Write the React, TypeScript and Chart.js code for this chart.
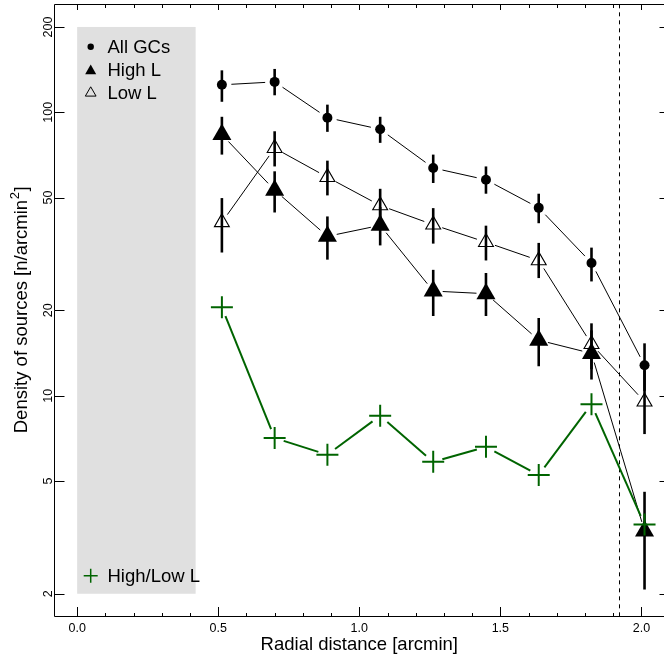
import React, { useEffect, useRef } from "react";
import { Chart, registerables } from "chart.js";

Chart.register(...registerables);

// ---------- data ----------
const radialDistance = [0.513, 0.7, 0.887, 1.074, 1.262, 1.449, 1.636, 1.823, 2.011];

const allGCs = [125, 128, 95.7, 87.1, 63.6, 57.8, 46.0, 29.4, 12.8];
const allGCsUpper = [140.6, 142.2, 106.4, 96.4, 70.9, 64.4, 51.6, 33.3, 15.3];
const allGCsLower = [108.9, 114.8, 85.3, 78.0, 56.3, 51.6, 40.6, 25.3, 10.4];

const highL = [83.4, 53.1, 36.5, 39.9, 23.4, 22.9, 15.7, 14.1, 3.33];
const highLUpper = [96.4, 61.9, 42.9, 46.3, 27.8, 27.1, 18.8, 17.0, 4.58];
const highLLower = [70.9, 44.3, 30.2, 33.9, 19.1, 19.1, 12.7, 11.4, 2.07];

const lowL = [40.9, 74.7, 59.0, 46.9, 40.1, 34.8, 30.0, 15.2, 9.52];
const lowLUpper = [49.8, 85.7, 67.5, 53.7, 45.9, 39.8, 34.6, 18.0, 12.3];
const lowLLower = [32.0, 64.4, 50.9, 40.2, 34.4, 30.0, 26.0, 12.4, 7.32];

const highLowRatio = [20.5, 7.09, 6.19, 8.5, 5.84, 6.6, 5.25, 9.32, 3.51];

const xTickValues = [0, 0.5, 1, 1.5, 2];
const xTickLabels = ["0.0", "0.5", "1.0", "1.5", "2.0"];
const xMinorTickValues = [0.1, 0.2, 0.3, 0.4, 0.6, 0.7, 0.8, 0.9, 1.1, 1.2, 1.3, 1.4, 1.6, 1.7, 1.8, 1.9];
const yTickValues = [2, 5, 10, 20, 50, 100, 200];
const yTickLabels = ["2", "5", "10", "20", "50", "100", "200"];

const shadedX = [0, 0.42];
const shadedY = [2, 200];
const cutoffRadius = 1.92;
const xRange = [-0.08, 2.08];
const yRange = [1.664, 240.4];

const legendLabels = ["All GCs", "High L", "Low L", "High/Low L"];

const FONT = '"Liberation Sans", Arial, Helvetica, sans-serif';
const GREEN = "#006400";
const W = 664;
const H = 659;

const toPoints = (vals: number[]) => radialDistance.map((x, i) => ({ x, y: vals[i] }));

const decorPlugin = {
  id: "decor",
  beforeDatasetsDraw(chart: any) {
    const { ctx, chartArea: a, scales } = chart;
    const xs = scales.x;
    const ys = scales.y;
    ctx.save();
    const x0 = xs.getPixelForValue(shadedX[0]);
    const x1 = xs.getPixelForValue(shadedX[1]);
    const y0 = ys.getPixelForValue(shadedY[1]);
    const y1 = ys.getPixelForValue(shadedY[0]);
    ctx.fillStyle = "#e0e0e0";
    ctx.fillRect(x0, y0, x1 - x0, y1 - y0);
    const cx = Math.round(xs.getPixelForValue(cutoffRadius)) + 0.5;
    ctx.strokeStyle = "#000";
    ctx.lineWidth = 1;
    ctx.setLineDash([4, 4]);
    ctx.beginPath();
    ctx.moveTo(cx, a.top);
    ctx.lineTo(cx, a.bottom);
    ctx.stroke();
    ctx.setLineDash([]);

    chart.data.datasets.forEach((ds: any) => {
      if (!(ds.upper && ds.lower)) return;
      ctx.strokeStyle = "#000";
      ctx.lineWidth = 2.6;
      ctx.lineCap = "butt";
      ds.data.forEach((p: any, i: number) => {
        const px = xs.getPixelForValue(p.x);
        ctx.beginPath();
        ctx.moveTo(px, ys.getPixelForValue(ds.lower[i]));
        ctx.lineTo(px, ys.getPixelForValue(ds.upper[i]));
        ctx.stroke();
      });
    });
    chart.data.datasets.forEach((ds: any) => {
      const pts = ds.data.map((p: any) => ({ x: xs.getPixelForValue(p.x), y: ys.getPixelForValue(p.y) }));
      ctx.strokeStyle = ds.lineColor;
      ctx.lineWidth = ds.lineWidth;
      const gap = 9.5;
      for (let i = 0; i < pts.length - 1; i++) {
        const p = pts[i];
        const q = pts[i + 1];
        const dx = q.x - p.x;
        const dy = q.y - p.y;
        const len = Math.hypot(dx, dy);
        if (len <= 2 * gap) continue;
        const ux = dx / len;
        const uy = dy / len;
        ctx.beginPath();
        ctx.moveTo(p.x + ux * gap, p.y + uy * gap);
        ctx.lineTo(q.x - ux * gap, q.y - uy * gap);
        ctx.stroke();
      }
    });
    ctx.restore();
  },
  afterDraw(chart: any) {
    const { ctx, chartArea: a, scales } = chart;
    const xs = scales.x;
    const ys = scales.y;
    ctx.save();
    ctx.strokeStyle = "#000";
    ctx.lineWidth = 1;
    const L = Math.floor(a.left) + 0.5;
    const T = Math.floor(a.top) + 0.5;
    const B = Math.floor(a.bottom) + 0.5;
    const R = Math.floor(a.right) + 0.5;
    ctx.beginPath();
    ctx.moveTo(R, T);
    ctx.lineTo(L, T);
    ctx.lineTo(L, B);
    ctx.lineTo(R, B);
    ctx.lineTo(R, T);
    ctx.stroke();

    ctx.beginPath();
    xTickValues.forEach((v) => {
      const px = Math.round(xs.getPixelForValue(v)) + 0.5;
      ctx.moveTo(px, B);
      ctx.lineTo(px, B - 9.5);
      ctx.moveTo(px, T);
      ctx.lineTo(px, T + 5.5);
    });
    xMinorTickValues.forEach((v) => {
      const px = Math.round(xs.getPixelForValue(v)) + 0.5;
      ctx.moveTo(px, B);
      ctx.lineTo(px, B - 3.5);
      ctx.moveTo(px, T);
      ctx.lineTo(px, T + 3.5);
    });
    yTickValues.forEach((v) => {
      const py = Math.round(ys.getPixelForValue(v)) + 0.5;
      ctx.moveTo(L, py);
      ctx.lineTo(L + 10, py);
      ctx.moveTo(R, py);
      ctx.lineTo(R - 5, py);
    });
    ctx.stroke();

    ctx.fillStyle = "#000";
    ctx.font = `12.5px ${FONT}`;
    ctx.textAlign = "center";
    ctx.textBaseline = "alphabetic";
    xTickValues.forEach((v, i) => {
      ctx.fillText(xTickLabels[i], xs.getPixelForValue(v), 631.5);
    });
    yTickValues.forEach((v, i) => {
      ctx.save();
      ctx.translate(52, ys.getPixelForValue(v));
      ctx.rotate(-Math.PI / 2);
      ctx.fillText(yTickLabels[i], 0, 0);
      ctx.restore();
    });

    ctx.font = `18.5px ${FONT}`;
    ctx.textAlign = "center";
    ctx.fillText("Radial distance [arcmin]", (a.left + a.right) / 2, 650);

    const mainTxt = "Density of sources [n/arcmin";
    const supTxt = "2";
    const endTxt = "]";
    ctx.font = `18.5px ${FONT}`;
    const w1 = ctx.measureText(mainTxt).width;
    const w3 = ctx.measureText(endTxt).width;
    ctx.font = `13px ${FONT}`;
    const w2 = ctx.measureText(supTxt).width;
    const total = w1 + w2 + w3;
    ctx.save();
    ctx.translate(26.7, (a.top + a.bottom) / 2);
    ctx.rotate(-Math.PI / 2);
    ctx.textAlign = "left";
    ctx.font = `18.5px ${FONT}`;
    ctx.fillText(mainTxt, -total / 2, 0);
    ctx.font = `13px ${FONT}`;
    ctx.fillText(supTxt, -total / 2 + w1 + 0.5, -7.5);
    ctx.font = `18.5px ${FONT}`;
    ctx.fillText(endTxt, -total / 2 + w1 + w2 + 1, 0);
    ctx.restore();

    const sx = 90.7;
    const tx = 107.5;
    ctx.font = `18.5px ${FONT}`;
    ctx.textAlign = "left";
    ctx.fillStyle = "#000";
    ctx.beginPath();
    ctx.arc(sx, 46.7, 3.2, 0, Math.PI * 2);
    ctx.fill();
    ctx.fillText(legendLabels[0], tx, 53.3);
    const tri = (cx: number, cy: number, r: number) => {
      ctx.beginPath();
      for (let k = 0; k < 3; k++) {
        const ang = (k * 2 * Math.PI) / 3;
        const px = cx + Math.sin(ang) * r;
        const py = cy - Math.cos(ang) * r;
        if (k === 0) ctx.moveTo(px, py);
        else ctx.lineTo(px, py);
      }
      ctx.closePath();
    };
    tri(sx, 71, 6.4);
    ctx.fill();
    ctx.fillText(legendLabels[1], tx, 75.9);
    tri(sx, 93, 6.2);
    ctx.lineWidth = 1;
    ctx.stroke();
    ctx.fillText(legendLabels[2], tx, 99);
    ctx.strokeStyle = GREEN;
    ctx.lineWidth = 1.5;
    ctx.beginPath();
    ctx.moveTo(sx - 7, 575.7);
    ctx.lineTo(sx + 7, 575.7);
    ctx.moveTo(sx, 575.7 - 7);
    ctx.lineTo(sx, 575.7 + 7);
    ctx.stroke();
    ctx.fillText(legendLabels[3], tx, 582.3);
    ctx.restore();
  },
};

export default function App() {
  const canvasRef = useRef<HTMLCanvasElement | null>(null);

  useEffect(() => {
    document.body.style.margin = "0";
    document.body.style.overflow = "hidden";
    const canvas = canvasRef.current;
    if (!canvas) return;
    const chart = new Chart(canvas, {
      type: "scatter",
      data: {
        datasets: [
          {
            label: "All GCs",
            data: toPoints(allGCs),
            upper: allGCsUpper,
            lower: allGCsLower,
            lineColor: "#000",
            lineWidth: 1,
            pointStyle: "circle",
            pointRadius: 5,
            backgroundColor: "#000",
            borderColor: "#000",
            borderWidth: 0,
            showLine: false,
            order: 4,
          } as any,
          {
            label: "High L",
            data: toPoints(highL),
            upper: highLUpper,
            lower: highLLower,
            lineColor: "#000",
            lineWidth: 1,
            pointStyle: "triangle",
            pointRadius: 11,
            backgroundColor: "#000",
            borderColor: "#000",
            borderWidth: 0,
            showLine: false,
            order: 3,
          } as any,
          {
            label: "Low L",
            data: toPoints(lowL),
            upper: lowLUpper,
            lower: lowLLower,
            lineColor: "#000",
            lineWidth: 1,
            pointStyle: "triangle",
            pointRadius: 8.6,
            backgroundColor: "rgba(0,0,0,0)",
            borderColor: "#000",
            borderWidth: 1.1,
            showLine: false,
            order: 2,
          } as any,
          {
            label: "High/Low L",
            data: toPoints(highLowRatio),
            lineColor: GREEN,
            lineWidth: 2,
            pointStyle: "cross",
            pointRadius: 11,
            backgroundColor: GREEN,
            borderColor: GREEN,
            borderWidth: 2,
            showLine: false,
            order: 1,
          } as any,
        ],
      },
      options: {
        responsive: false,
        devicePixelRatio: 1,
        animation: false,
        events: [],
        layout: { autoPadding: false, padding: { left: 54.58, right: -4, top: 4.32, bottom: 42.6 } },
        plugins: { legend: { display: false }, tooltip: { enabled: false } },
        scales: {
          x: { type: "linear", min: xRange[0], max: xRange[1], display: false },
          y: { type: "logarithmic", min: yRange[0], max: yRange[1], display: false },
        },
      },
      plugins: [decorPlugin],
    });
    return () => chart.destroy();
  }, []);

  return (
    <div style={{ width: W, height: H, overflow: "hidden" }}>
      <canvas ref={canvasRef} width={W} height={H} style={{ display: "block" }} />
    </div>
  );
}
